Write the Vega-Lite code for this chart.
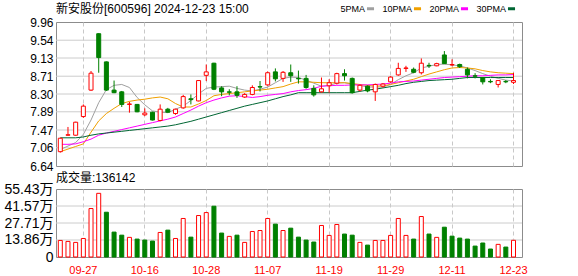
{
  "$schema": "https://vega.github.io/schema/vega-lite/v6.json",
  "background": "white",
  "padding": {"left": 3, "top": 2, "right": 0, "bottom": 0},
  "spacing": -2,
  "datasets": {
    "pgrid": [{"p": 7.06}, {"p": 7.47}, {"p": 7.89}, {"p": 8.30}, {"p": 8.71}, {"p": 9.13}, {"p": 9.54}],
    "vgrid": [{"v": 138600}, {"v": 277100}, {"v": 415700}],
    "k": [
    {"d":"09-24","open":6.97,"high":7.29,"low":6.95,"close":7.28,"vol":135000,"vdir":"up","5PMA":7.02,"10PMA":6.97,"20PMA":7.14,"30PMA":7.29},
    {"d":"09-25","open":7.35,"high":7.54,"low":7.34,"close":7.36,"vol":127000,"vdir":"up","5PMA":7.10,"10PMA":7.03,"20PMA":7.14,"30PMA":7.29},
    {"d":"09-26","open":7.35,"high":7.66,"low":7.34,"close":7.65,"vol":119000,"vdir":"up","5PMA":7.18,"10PMA":7.09,"20PMA":7.15,"30PMA":7.29},
    {"d":"09-27","open":7.78,"high":8.06,"low":7.75,"close":8.02,"vol":151000,"vdir":"up","5PMA":7.37,"10PMA":7.15,"20PMA":7.20,"30PMA":7.31},
    {"d":"09-30","open":8.39,"high":8.83,"low":8.37,"close":8.78,"vol":395000,"vdir":"up","5PMA":7.70,"10PMA":7.42,"20PMA":7.26,"30PMA":7.35},
    {"d":"10-08","open":9.69,"high":9.70,"low":8.79,"close":9.14,"vol":519000,"vdir":"up","5PMA":8.10,"10PMA":7.68,"20PMA":7.35,"30PMA":7.38},
    {"d":"10-09","open":9.04,"high":9.05,"low":8.37,"close":8.39,"vol":365000,"vdir":"down","5PMA":8.40,"10PMA":7.85,"20PMA":7.40,"30PMA":7.40},
    {"d":"10-10","open":8.39,"high":8.61,"low":8.32,"close":8.33,"vol":203000,"vdir":"down","5PMA":8.50,"10PMA":7.97,"20PMA":7.44,"30PMA":7.42},
    {"d":"10-11","open":8.35,"high":8.37,"low":8.00,"close":8.06,"vol":178000,"vdir":"down","5PMA":8.52,"10PMA":8.08,"20PMA":7.48,"30PMA":7.44},
    {"d":"10-14","open":8.06,"high":8.12,"low":7.87,"close":8.07,"vol":160000,"vdir":"up","5PMA":8.45,"10PMA":8.13,"20PMA":7.52,"30PMA":7.46},
    {"d":"10-15","open":8.06,"high":8.07,"low":7.88,"close":7.89,"vol":146000,"vdir":"down","5PMA":8.22,"10PMA":8.16,"20PMA":7.56,"30PMA":7.48},
    {"d":"10-16","open":7.82,"high":7.97,"low":7.79,"close":7.86,"vol":138000,"vdir":"down","5PMA":8.05,"10PMA":8.18,"20PMA":7.60,"30PMA":7.50},
    {"d":"10-17","open":7.88,"high":7.89,"low":7.69,"close":7.70,"vol":130000,"vdir":"down","5PMA":7.91,"10PMA":8.21,"20PMA":7.64,"30PMA":7.52},
    {"d":"10-18","open":7.69,"high":8.06,"low":7.67,"close":7.95,"vol":200000,"vdir":"up","5PMA":7.88,"10PMA":8.23,"20PMA":7.68,"30PMA":7.54},
    {"d":"10-21","open":7.95,"high":7.98,"low":7.87,"close":7.88,"vol":219000,"vdir":"down","5PMA":7.87,"10PMA":8.19,"20PMA":7.72,"30PMA":7.56},
    {"d":"10-22","open":7.85,"high":7.96,"low":7.82,"close":7.95,"vol":151000,"vdir":"up","5PMA":7.95,"10PMA":8.08,"20PMA":7.77,"30PMA":7.59},
    {"d":"10-23","open":7.98,"high":8.28,"low":7.96,"close":8.24,"vol":314000,"vdir":"up","5PMA":8.02,"10PMA":8.00,"20PMA":7.85,"30PMA":7.63},
    {"d":"10-24","open":8.19,"high":8.29,"low":8.06,"close":8.17,"vol":162000,"vdir":"down","5PMA":8.15,"10PMA":8.00,"20PMA":7.93,"30PMA":7.67},
    {"d":"10-25","open":8.14,"high":8.62,"low":8.13,"close":8.61,"vol":338000,"vdir":"up","5PMA":8.30,"10PMA":8.07,"20PMA":8.02,"30PMA":7.72},
    {"d":"10-28","open":8.73,"high":8.98,"low":8.60,"close":8.81,"vol":362000,"vdir":"up","5PMA":8.43,"10PMA":8.15,"20PMA":8.10,"30PMA":7.77},
    {"d":"10-29","open":9.01,"high":9.02,"low":8.39,"close":8.41,"vol":414000,"vdir":"down","5PMA":8.46,"10PMA":8.26,"20PMA":8.16,"30PMA":7.82},
    {"d":"10-30","open":8.44,"high":8.48,"low":8.25,"close":8.35,"vol":195000,"vdir":"down","5PMA":8.47,"10PMA":8.29,"20PMA":8.21,"30PMA":7.87},
    {"d":"10-31","open":8.35,"high":8.41,"low":8.27,"close":8.34,"vol":168000,"vdir":"up","5PMA":8.48,"10PMA":8.31,"20PMA":8.25,"30PMA":7.92},
    {"d":"11-01","open":8.35,"high":8.48,"low":8.21,"close":8.27,"vol":178000,"vdir":"down","5PMA":8.43,"10PMA":8.33,"20PMA":8.26,"30PMA":7.97},
    {"d":"11-04","open":8.23,"high":8.32,"low":8.21,"close":8.29,"vol":119000,"vdir":"up","5PMA":8.39,"10PMA":8.35,"20PMA":8.24,"30PMA":8.02},
    {"d":"11-05","open":8.29,"high":8.50,"low":8.27,"close":8.45,"vol":208000,"vdir":"up","5PMA":8.37,"10PMA":8.37,"20PMA":8.22,"30PMA":8.06},
    {"d":"11-06","open":8.47,"high":8.60,"low":8.36,"close":8.46,"vol":216000,"vdir":"up","5PMA":8.41,"10PMA":8.39,"20PMA":8.24,"30PMA":8.10},
    {"d":"11-07","open":8.51,"high":8.82,"low":8.49,"close":8.79,"vol":314000,"vdir":"up","5PMA":8.46,"10PMA":8.41,"20PMA":8.27,"30PMA":8.14},
    {"d":"11-08","open":8.81,"high":8.89,"low":8.59,"close":8.65,"vol":268000,"vdir":"down","5PMA":8.56,"10PMA":8.44,"20PMA":8.29,"30PMA":8.19},
    {"d":"11-11","open":8.66,"high":8.83,"low":8.58,"close":8.80,"vol":216000,"vdir":"up","5PMA":8.66,"10PMA":8.47,"20PMA":8.31,"30PMA":8.24},
    {"d":"11-12","open":8.79,"high":8.98,"low":8.58,"close":8.72,"vol":235000,"vdir":"down","5PMA":8.69,"10PMA":8.53,"20PMA":8.35,"30PMA":8.28},
    {"d":"11-13","open":8.66,"high":8.84,"low":8.54,"close":8.65,"vol":162000,"vdir":"down","5PMA":8.68,"10PMA":8.58,"20PMA":8.38,"30PMA":8.33},
    {"d":"11-14","open":8.66,"high":8.74,"low":8.42,"close":8.45,"vol":138000,"vdir":"down","5PMA":8.62,"10PMA":8.58,"20PMA":8.40,"30PMA":8.33},
    {"d":"11-15","open":8.43,"high":8.50,"low":8.24,"close":8.28,"vol":122000,"vdir":"down","5PMA":8.55,"10PMA":8.57,"20PMA":8.43,"30PMA":8.33},
    {"d":"11-18","open":8.35,"high":8.68,"low":8.33,"close":8.42,"vol":257000,"vdir":"up","5PMA":8.48,"10PMA":8.56,"20PMA":8.48,"30PMA":8.33},
    {"d":"11-19","open":8.49,"high":8.64,"low":8.33,"close":8.56,"vol":176000,"vdir":"up","5PMA":8.50,"10PMA":8.56,"20PMA":8.49,"30PMA":8.33},
    {"d":"11-20","open":8.55,"high":8.79,"low":8.52,"close":8.77,"vol":265000,"vdir":"up","5PMA":8.55,"10PMA":8.56,"20PMA":8.50,"30PMA":8.33},
    {"d":"11-21","open":8.77,"high":8.87,"low":8.61,"close":8.72,"vol":187000,"vdir":"down","5PMA":8.56,"10PMA":8.56,"20PMA":8.50,"30PMA":8.33},
    {"d":"11-22","open":8.66,"high":8.68,"low":8.31,"close":8.33,"vol":178000,"vdir":"down","5PMA":8.53,"10PMA":8.54,"20PMA":8.51,"30PMA":8.33},
    {"d":"11-25","open":8.39,"high":8.52,"low":8.36,"close":8.50,"vol":119000,"vdir":"up","5PMA":8.50,"10PMA":8.52,"20PMA":8.51,"30PMA":8.36},
    {"d":"11-26","open":8.48,"high":8.50,"low":8.34,"close":8.37,"vol":97000,"vdir":"down","5PMA":8.46,"10PMA":8.50,"20PMA":8.51,"30PMA":8.39},
    {"d":"11-27","open":8.35,"high":8.54,"low":8.14,"close":8.52,"vol":135000,"vdir":"up","5PMA":8.46,"10PMA":8.48,"20PMA":8.52,"30PMA":8.41},
    {"d":"11-28","open":8.48,"high":8.55,"low":8.45,"close":8.53,"vol":135000,"vdir":"up","5PMA":8.46,"10PMA":8.49,"20PMA":8.53,"30PMA":8.44},
    {"d":"11-29","open":8.58,"high":8.71,"low":8.56,"close":8.69,"vol":176000,"vdir":"up","5PMA":8.52,"10PMA":8.52,"20PMA":8.55,"30PMA":8.47},
    {"d":"12-02","open":8.74,"high":9.02,"low":8.72,"close":8.89,"vol":314000,"vdir":"up","5PMA":8.63,"10PMA":8.56,"20PMA":8.58,"30PMA":8.50},
    {"d":"12-03","open":8.89,"high":8.95,"low":8.81,"close":8.90,"vol":176000,"vdir":"up","5PMA":8.72,"10PMA":8.60,"20PMA":8.59,"30PMA":8.54},
    {"d":"12-04","open":8.87,"high":8.91,"low":8.78,"close":8.80,"vol":146000,"vdir":"down","5PMA":8.79,"10PMA":8.64,"20PMA":8.60,"30PMA":8.57},
    {"d":"12-05","open":8.79,"high":9.12,"low":8.75,"close":9.01,"vol":330000,"vdir":"up","5PMA":8.90,"10PMA":8.70,"20PMA":8.62,"30PMA":8.59},
    {"d":"12-06","open":8.96,"high":9.02,"low":8.90,"close":8.95,"vol":187000,"vdir":"down","5PMA":8.94,"10PMA":8.76,"20PMA":8.64,"30PMA":8.61},
    {"d":"12-09","open":8.95,"high":9.02,"low":8.94,"close":9.00,"vol":160000,"vdir":"up","5PMA":8.98,"10PMA":8.81,"20PMA":8.66,"30PMA":8.62},
    {"d":"12-10","open":9.20,"high":9.29,"low":8.99,"close":9.00,"vol":243000,"vdir":"down","5PMA":8.99,"10PMA":8.86,"20PMA":8.68,"30PMA":8.63},
    {"d":"12-11","open":8.97,"high":9.10,"low":8.94,"close":8.98,"vol":170000,"vdir":"down","5PMA":8.97,"10PMA":8.90,"20PMA":8.69,"30PMA":8.64},
    {"d":"12-12","open":8.98,"high":9.00,"low":8.90,"close":8.93,"vol":154000,"vdir":"down","5PMA":8.95,"10PMA":8.91,"20PMA":8.70,"30PMA":8.66},
    {"d":"12-13","open":8.87,"high":8.91,"low":8.66,"close":8.74,"vol":146000,"vdir":"down","5PMA":8.90,"10PMA":8.90,"20PMA":8.71,"30PMA":8.68},
    {"d":"12-16","open":8.72,"high":8.78,"low":8.66,"close":8.71,"vol":89000,"vdir":"down","5PMA":8.84,"10PMA":8.88,"20PMA":8.72,"30PMA":8.68},
    {"d":"12-17","open":8.68,"high":8.68,"low":8.52,"close":8.58,"vol":114000,"vdir":"down","5PMA":8.77,"10PMA":8.84,"20PMA":8.72,"30PMA":8.68},
    {"d":"12-18","open":8.59,"high":8.64,"low":8.55,"close":8.58,"vol":65000,"vdir":"down","5PMA":8.71,"10PMA":8.81,"20PMA":8.73,"30PMA":8.68},
    {"d":"12-19","open":8.52,"high":8.61,"low":8.45,"close":8.61,"vol":103000,"vdir":"up","5PMA":8.66,"10PMA":8.79,"20PMA":8.74,"30PMA":8.68},
    {"d":"12-20","open":8.59,"high":8.62,"low":8.55,"close":8.58,"vol":81000,"vdir":"down","5PMA":8.62,"10PMA":8.78,"20PMA":8.74,"30PMA":8.68},
    {"d":"12-23","open":8.57,"high":8.79,"low":8.53,"close":8.61,"vol":136142,"vdir":"up","5PMA":8.60,"10PMA":8.77,"20PMA":8.75,"30PMA":8.68}
    ]
  },
  "data": {"name": "k"},
  "resolve": {"scale": {"color": "independent"}, "legend": {"color": "independent"}},
  "vconcat": [
    {
      "width": 466,
      "height": 144,
      "title": {"text": "新安股份[600596] 2024-12-23 15:00", "anchor": "start", "frame": "group", "fontSize": 12, "fontWeight": "normal", "font": "Liberation Sans, Noto Sans CJK SC", "color": "#000000", "offset": -13},
      "resolve": {"scale": {"x": "independent"}, "axis": {"x": "independent"}},
      "layer": [
        {
          "data": {"name": "pgrid"},
          "mark": {"type": "rule", "strokeWidth": 1, "color": "#cccccc"},
          "encoding": {
            "x": {"datum": 0, "type": "quantitative", "scale": {"domain": [0, 1], "nice": false, "zero": false}, "axis": null},
            "x2": {"datum": 1},
            "y": {"field": "p", "type": "quantitative",
              "scale": {"domain": [6.64, 9.96], "nice": false, "zero": false},
              "axis": {"title": null, "grid": false, "labelOverlap": false, "values": [6.64, 7.06, 7.47, 7.89, 8.30, 8.71, 9.13, 9.54, 9.96], "format": ".2f", "labelFontSize": 12}}
          }
        },
        {
          "encoding": {
            "x": {"field": "d", "type": "ordinal", "sort": null,
              "scale": {"type": "band", "paddingInner": 0, "paddingOuter": 0.333, "align": 0.09},
              "axis": {"title": null, "labels": false, "ticks": false, "domain": false, "grid": true, "gridDash": [4, 3], "gridColor": "#c8c8c8",
                "values": ["09-27","10-16","10-28","11-07","11-19","11-29","12-11","12-23"]}}
          },
          "layer": [
            {
              "transform": [{"fold": ["5PMA","10PMA","20PMA","30PMA"], "as": ["series", "ma"]}],
              "mark": {"type": "line", "strokeWidth": 1},
              "encoding": {
                "y": {"field": "ma", "type": "quantitative",
                  "axis": {"title": null, "grid": false, "labelOverlap": false, "values": [6.64, 7.06, 7.47, 7.89, 8.30, 8.71, 9.13, 9.54, 9.96], "format": ".2f", "labelFontSize": 12}},
                "color": {"field": "series", "type": "nominal",
                  "scale": {"domain": ["5PMA","10PMA","20PMA","30PMA"], "range": ["#a0a0a0","#f0a000","#ff00ff","#006633"]},
                  "legend": {"orient": "none", "legendX": 309, "legendY": -19, "direction": "horizontal", "title": null,
                    "symbolType": "stroke", "symbolStrokeWidth": 3, "symbolSize": 50, "labelFontSize": 9, "labelFont": "Liberation Sans", "labelColor": "#000000",
                    "labelAlign": "right", "labelOffset": -11, "columnPadding": 1, "padding": 0}}
              }
            },
            {
              "mark": {"type": "rule", "strokeWidth": 1},
              "encoding": {
                "y": {"field": "low", "type": "quantitative",
                  "axis": {"title": null, "grid": false, "labelOverlap": false, "values": [6.64, 7.06, 7.47, 7.89, 8.30, 8.71, 9.13, 9.54, 9.96], "format": ".2f", "labelFontSize": 12}},
                "y2": {"field": "high"},
                "color": {"condition": {"test": "datum.close >= datum.open", "value": "#ff0000"}, "value": "#008000"}
              }
            },
            {
              "mark": {"type": "bar", "size": 4, "strokeWidth": 1},
              "encoding": {
                "y": {"field": "open", "type": "quantitative",
                  "axis": {"title": null, "grid": false, "labelOverlap": false, "values": [6.64, 7.06, 7.47, 7.89, 8.30, 8.71, 9.13, 9.54, 9.96], "format": ".2f", "labelFontSize": 12}},
                "y2": {"field": "close"},
                "fill": {"condition": {"test": "datum.close >= datum.open", "value": "#ffffff"}, "value": "#008000"},
                "stroke": {"condition": {"test": "datum.close >= datum.open", "value": "#ff0000"}, "value": "#008000"}
              }
            }
          ]
        }
      ]
    },
    {
      "width": 466,
      "height": 68,
      "title": {"text": "成交量:136142", "anchor": "start", "frame": "group", "fontSize": 12, "fontWeight": "normal", "font": "Liberation Sans, Noto Sans CJK SC", "color": "#000000", "offset": -3},
      "resolve": {"scale": {"x": "independent"}, "axis": {"x": "independent"}},
      "layer": [
        {
          "data": {"name": "vgrid"},
          "mark": {"type": "rule", "strokeWidth": 1, "color": "#cccccc"},
          "encoding": {
            "x": {"datum": 0, "type": "quantitative", "scale": {"domain": [0, 1], "nice": false, "zero": false}, "axis": null},
            "x2": {"datum": 1},
            "y": {"field": "v", "type": "quantitative",
              "scale": {"domain": [0, 554300], "nice": false, "zero": true},
              "axis": {"title": null, "grid": false, "labelOverlap": false, "values": [0, 138600, 277100, 415700, 554300], "labelFontSize": 14,
                "labelExpr": "datum.value == 0 ? '0' : format(datum.value / 10000, '.2f') + '万'"}}
          }
        },
        {
          "mark": {"type": "bar", "size": 4, "strokeWidth": 1},
          "encoding": {
            "x": {"field": "d", "type": "ordinal", "sort": null,
              "scale": {"type": "band", "paddingInner": 0, "paddingOuter": 0.333, "align": 0.09},
              "axis": {"title": null, "ticks": false, "domain": false, "grid": true, "gridDash": [4, 3], "gridColor": "#c8c8c8",
                "labelAngle": 0, "labelColor": "#ff0000", "labelFontSize": 11, "labelPadding": 7,
                "values": ["09-27","10-16","10-28","11-07","11-19","11-29","12-11","12-23"]}},
            "y": {"field": "vol", "type": "quantitative",
              "axis": {"title": null, "grid": false, "labelOverlap": false, "values": [0, 138600, 277100, 415700, 554300], "labelFontSize": 14,
                "labelExpr": "datum.value == 0 ? '0' : format(datum.value / 10000, '.2f') + '万'"}},
            "fill": {"condition": {"test": "datum.vdir == 'up'", "value": "#ffffff"}, "value": "#008000"},
            "stroke": {"condition": {"test": "datum.vdir == 'up'", "value": "#ff0000"}, "value": "#008000"}
          }
        }
      ]
    }
  ],
  "config": {
    "font": "Liberation Sans, Noto Sans CJK SC",
    "view": {"stroke": "#8c8c8c", "strokeWidth": 1},
    "axis": {"labelFont": "Liberation Sans, Noto Sans CJK SC", "labelColor": "#000000", "domain": false, "ticks": false, "labelPadding": 3, "gridWidth": 1}
  }
}
